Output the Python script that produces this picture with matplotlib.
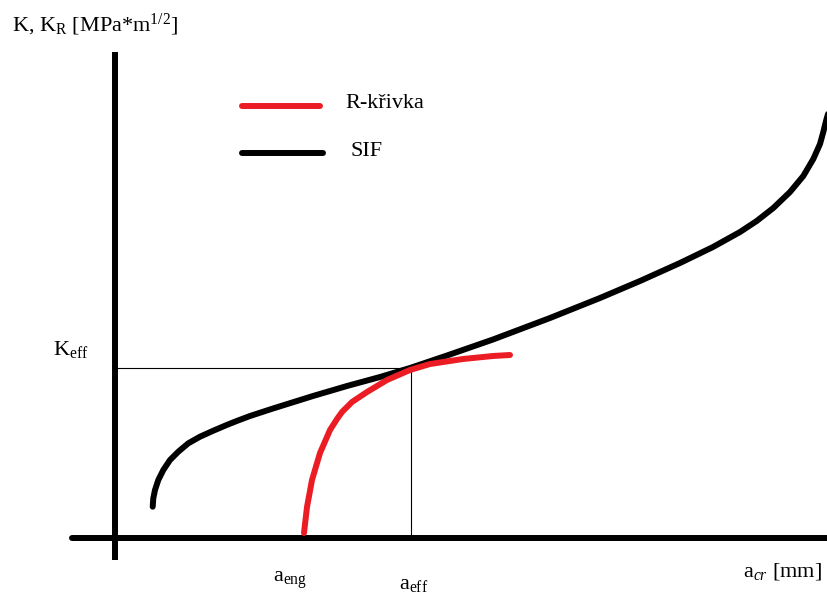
import matplotlib
matplotlib.use("Agg")
import matplotlib.pyplot as plt

plt.rcParams["font.family"] = "Liberation Serif"
plt.rcParams["mathtext.fontset"] = "custom"
plt.rcParams["mathtext.rm"] = "Liberation Serif"
plt.rcParams["mathtext.it"] = "Liberation Serif:italic"

# SIF curve K(a), schematic units
sif_a = [3.77, 3.83, 4.0, 4.33, 4.83, 5.5, 6.33, 7.33, 8.5, 9.83, 11.17,
         12.17, 13.5, 15.8, 19.8, 23.2, 26.5, 29.5, 33.2, 37.8, 43.5, 48.5,
         52.5, 56.5, 59.8, 62.5, 64.17, 65.83, 67.5, 68.83, 69.83, 70.5,
         70.83, 71.1, 71.3]
sif_k = [3.13, 3.97, 4.8, 5.8, 6.8, 7.8, 8.63, 9.47, 10.13, 10.73, 11.3,
         11.7, 12.2, 12.95, 14.2, 15.2, 16.1, 17.0, 18.25, 19.85, 22.0, 24.0,
         25.7, 27.5, 29.1, 30.6, 31.7, 33.0, 34.6, 36.2, 37.9, 39.4,
         40.6, 41.7, 42.4]

# R-curve K_R(a)
r_a = [18.9, 19.2, 19.7, 20.5, 21.5, 22.2, 22.7, 23.7, 25.2, 27.2, 29.5,
       31.5, 34.8, 37.8, 39.5]
r_k = [0.5, 3.1, 5.8, 8.5, 10.8, 11.9, 12.6, 13.6, 14.6, 15.8, 16.8,
       17.4, 17.9, 18.2, 18.3]

a_eng = 18.9
a_eff = 29.6
k_eff = 17.0

RED = "#ec1c24"
LW = 4.3
STROKE = dict(lw=LW, solid_capstyle="round", solid_joinstyle="round")

fig = plt.figure(figsize=(8.27, 5.93), dpi=100)
ax = fig.add_axes([0, 0, 1, 1])
ax.set_xlim(-11.5, 71.2)
ax.set_ylim(-5.5, 53.8)
ax.axis("off")

# hand-drawn axes
ax.plot([0, 0], [-2.2, 48.6], color="black", lw=LW, solid_capstyle="butt")
ax.plot([-4.3, 71.5], [0, 0], color="black", **STROKE)

# K_eff / a_eff guide lines
ax.plot([0, a_eff], [k_eff, k_eff], color="black", lw=0.8)
ax.plot([a_eff, a_eff], [0, k_eff], color="black", lw=0.8)

ax.plot(sif_a, sif_k, color="black", **STROKE)
ax.plot(r_a, r_k, color=RED, **STROKE)

# legend keys
ax.plot([12.7, 20.5], [43.2, 43.2], color=RED, **STROKE)
ax.plot([12.7, 20.8], [38.5, 38.5], color="black", **STROKE)
ax.text(23.0, 43.4, "R-křivka", fontsize=16, va="center", ha="left")
ax.text(23.5, 38.6, "SIF", fontsize=16, va="center", ha="left")

# labels
ax.text(-10.3, 51.3, r"K, K$_{\mathrm{R}}$ [MPa*m$^{1/2}$]", fontsize=16,
        va="center", ha="left")
ax.text(-6.2, 18.8, r"K$_{\mathrm{eff}}$", fontsize=16, va="center", ha="left")
ax.text(15.8, -4.2, r"a$_{\mathrm{eng}}$", fontsize=16, va="center", ha="left")
ax.text(28.4, -4.7, r"a$_{\mathrm{eff}}$", fontsize=16, va="center", ha="left")
ax.text(62.8, -3.4, r"a$_{\mathit{cr}}$ [mm]", fontsize=16, va="center",
        ha="left")

fig.savefig("out.png", dpi=100)
